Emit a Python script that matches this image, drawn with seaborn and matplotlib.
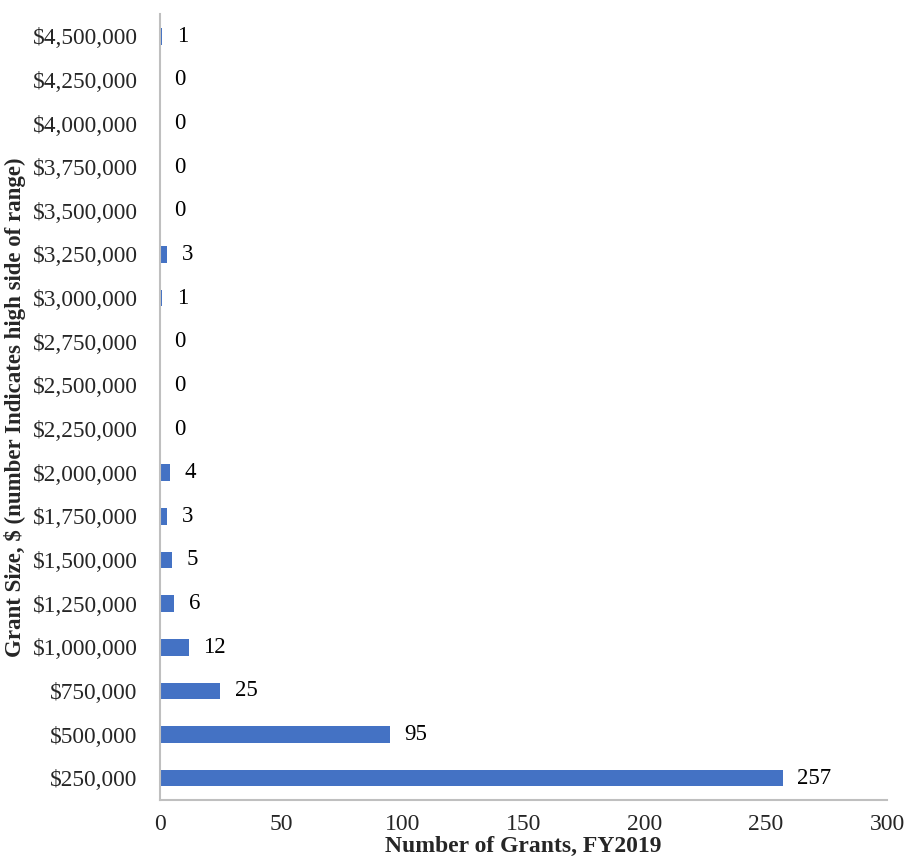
import matplotlib
matplotlib.use("Agg")
import matplotlib.pyplot as plt
import seaborn as sns
import pandas as pd
import numpy as np
from matplotlib.ticker import FixedLocator

categories = ["$4,500,000", "$4,250,000", "$4,000,000", "$3,750,000", "$3,500,000",
              "$3,250,000", "$3,000,000", "$2,750,000", "$2,500,000", "$2,250,000",
              "$2,000,000", "$1,750,000", "$1,500,000", "$1,250,000", "$1,000,000",
              "$750,000", "$500,000", "$250,000"]
counts = [1, 0, 0, 0, 0, 3, 1, 0, 0, 0, 4, 3, 5, 6, 12, 25, 95, 257]
x_ticks = [0, 50, 100, 150, 200, 250, 300]

sns.set_theme(style="white")
plt.rcParams['font.family'] = ['Liberation Serif', 'DejaVu Serif']

df = pd.DataFrame({"Grant Size": categories, "Count": counts})

fig = plt.figure(figsize=(9.08, 8.67), dpi=100)
ax = fig.add_axes([0.176, 0.0773, 0.801, 0.906])
sns.barplot(data=df, y="Grant Size", x="Count", order=categories, orient="h",
            color="#4472C4", saturation=1, width=0.38, linewidth=0, ax=ax)

for i, v in enumerate(counts):
    ax.text(v + 6, i, str(v), va="center", ha="left", fontsize=16.5, color="black")

ax.set_xlim(0, 300)
ax.set_ylim(len(categories) - 0.5, -0.5)
ax.set_xticks(x_ticks)
ax.set_xticklabels([str(t) for t in x_ticks], fontsize=17)
ax.set_yticks(range(len(categories)))
ax.set_yticklabels(categories, fontsize=16.8)
ax.yaxis.set_minor_locator(FixedLocator(np.arange(-0.5, len(categories), 1.0)))
ax.tick_params(axis="y", which="major", length=0, pad=16)
ax.tick_params(axis="y", which="minor", length=5, direction="out", color="#bfbfbf", width=1.2)
ax.tick_params(axis="x", which="major", length=5, direction="in", color="#bfbfbf", width=1.2, pad=10)

for s in ["top", "right"]:
    ax.spines[s].set_visible(False)
for s in ["left", "bottom"]:
    ax.spines[s].set_color("#bfbfbf")
    ax.spines[s].set_linewidth(1.5)

ax.set_xlabel("Number of Grants, FY2019", fontsize=17, fontweight="bold", labelpad=1)
ax.set_ylabel("Grant Size, $ (number Indicates high side of range)", fontsize=16.5,
              fontweight="bold", labelpad=5)
ax.grid(False)

fig.savefig("out.png", dpi=100)
